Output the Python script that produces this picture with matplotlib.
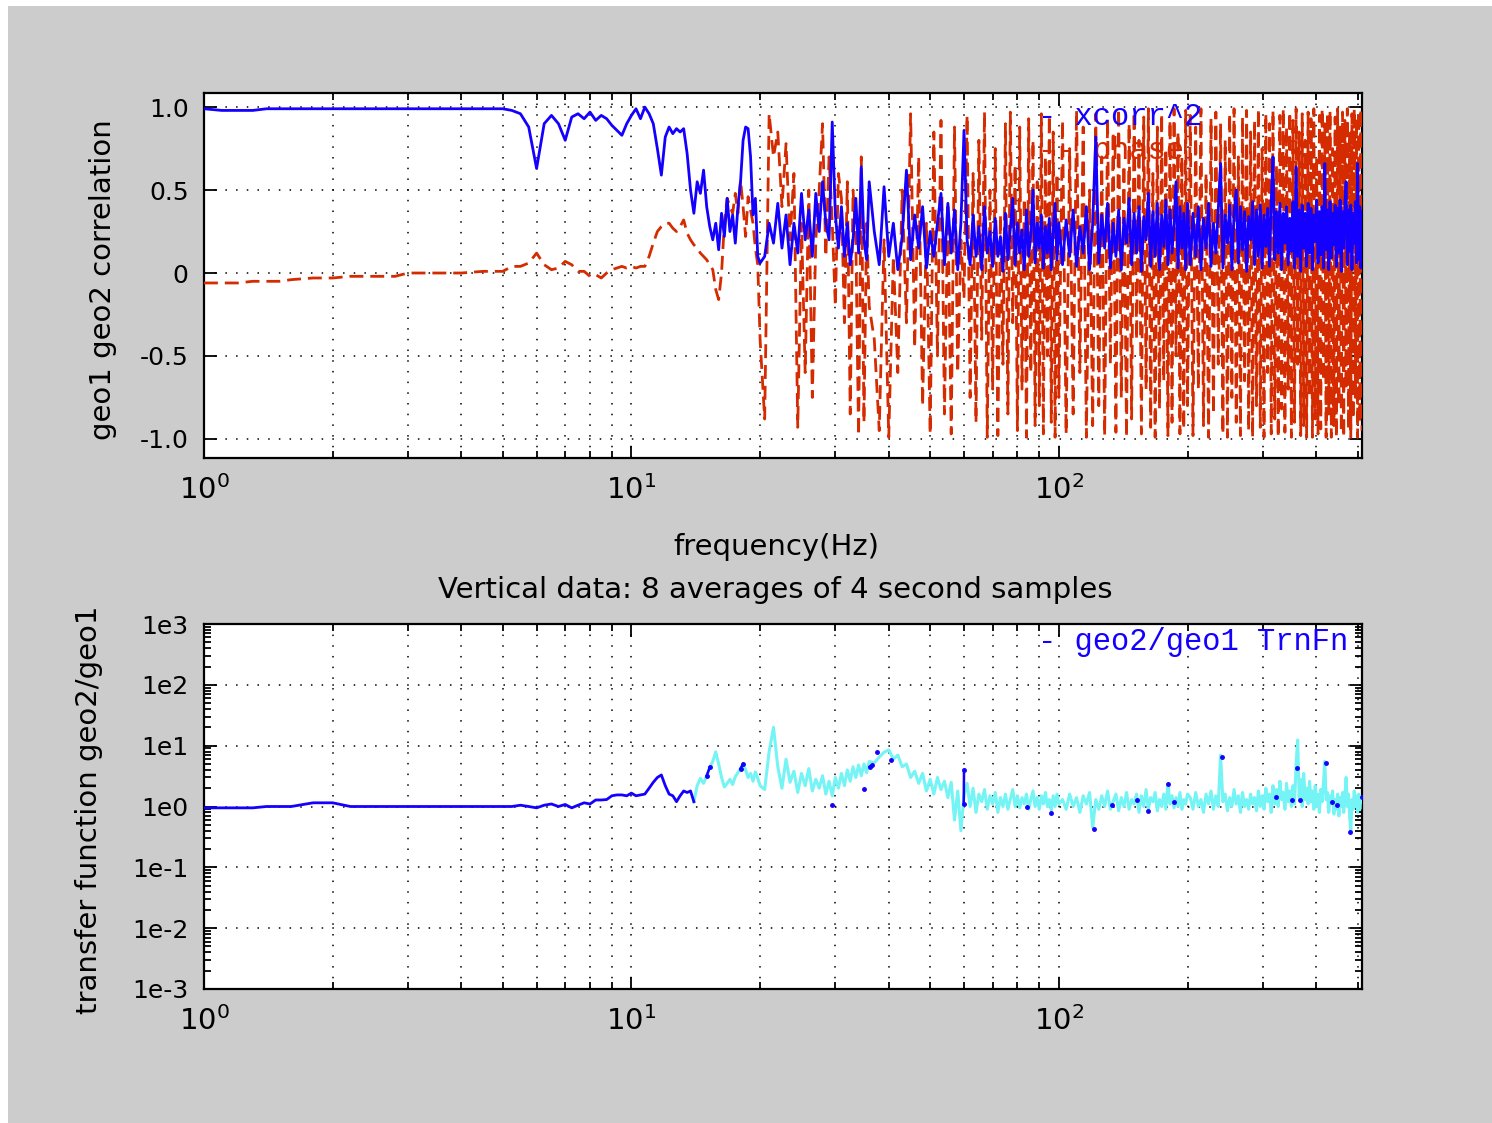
import numpy as np
import matplotlib
matplotlib.use("Agg")
import matplotlib.pyplot as plt
from matplotlib.patches import Rectangle
from matplotlib.ticker import FixedLocator, FixedFormatter, LogLocator, NullFormatter

nan = np.nan

# frequency bins (Hz)
freq = [
    1.0, 1.1, 1.2, 1.3, 1.4, 1.5, 1.6, 1.8, 2.0, 2.2, 2.5, 2.8, 3.0, 3.5, 4.0, 4.5, 5.0,
    5.25, 5.5, 5.75, 6.0, 6.25, 6.5, 6.75, 7.0, 7.25, 7.5,
    7.75, 8.0, 8.25, 8.5, 8.75, 9.0, 9.25, 9.5, 9.75, 10.0,
    10.25, 10.5, 10.75, 11.0, 11.25, 11.5, 11.75, 12.0, 12.25, 12.5,
    12.75, 13.0, 13.25, 13.5, 13.75, 14.0, 14.25, 14.5, 14.75, 15.0,
    15.25, 15.5, 15.75, 16.0, 16.25, 16.5, 16.75, 17.0, 17.25, 17.5,
    17.75, 18.0, 18.25, 18.5, 18.75, 19.0, 19.25, 19.5, 19.75, 20.0,
    20.5, 21.0, 21.5, 22.0, 22.5, 23.0, 23.5, 24.0, 24.5, 25.0,
    25.5, 26.0, 26.5, 27.0, 27.5, 28.0, 28.5, 29.0, 29.5, 30.0,
    30.5, 31.0, 31.5, 32.0, 32.5, 33.0, 33.5, 34.0, 34.5, 35.0,
    35.5, 36.0,
    37, 38, 39, 40, 41, 42, 43, 44, 45, 46,
    47, 48, 49, 50, 51, 52, 53, 54, 55, 56,
    57, 58, 59, 60, 61, 62, 63, 64, 65, 66,
    67, 68, 69, 70, 71, 72, 73, 74, 75, 76,
    77, 78, 79, 80, 81, 82, 83, 84, 85, 86,
    87, 88, 89, 90, 91, 92, 93, 94, 95, 96,
    97, 98, 99, 100,
    102, 104, 106, 108, 110, 112, 114, 116, 118, 120,
    122, 124, 126, 128, 130, 132, 134, 136, 138, 140,
    142, 144, 146, 148, 150, 152, 154, 156, 158, 160,
    162, 164, 166, 168, 170, 172, 174, 176, 178, 180,
    182, 184, 186, 188, 190, 192, 194, 196, 198, 200,
    203, 206, 209, 212, 215, 218, 221, 224, 227, 230,
    233, 236, 239, 242, 245, 248, 251, 254, 257, 260,
    263, 266, 269, 272, 275, 278, 281, 284, 287, 290,
    293, 296, 299, 302, 305, 308, 311, 314, 317, 320,
    323, 326, 329, 332, 335, 338, 341, 344, 347, 350,
    353, 356, 359, 362, 365, 368, 371, 374, 377, 380,
    383, 386, 389, 392, 395, 398, 401, 404, 407, 410,
    413, 416, 419, 422, 425, 428, 431, 434, 437, 440,
    443, 446, 449, 452, 455, 458, 461, 464, 467, 470,
    473, 476, 479, 482, 485, 488, 491, 494, 497, 500,
    503, 506, 509, 512,
]

# squared coherence geo1/geo2
xcorr2 = [
    0.99, 0.98, 0.98, 0.98, 0.99, 0.99, 0.99, 0.99, 0.99, 0.99, 0.99, 0.99, 0.99, 0.99, 0.99, 0.99, 0.99,
    0.98, 0.96, 0.88, 0.63, 0.90, 0.95, 0.90, 0.80, 0.94, 0.96,
    0.93, 0.97, 0.92, 0.95, 0.93, 0.89, 0.86, 0.83, 0.90, 0.95,
    0.99, 0.93, 1.00, 0.96, 0.90, 0.75, 0.59, 0.82, 0.88, 0.84,
    0.87, 0.85, 0.87, 0.72, 0.50, 0.36, 0.55, 0.48, 0.62, 0.40,
    0.28, 0.20, 0.30, 0.14, 0.36, 0.22, 0.45, 0.25, 0.35, 0.18,
    0.40, 0.55, 0.80, 0.88, 0.87, 0.70, 0.35, 0.45, 0.10, 0.06,
    0.10, 0.30, 0.18, 0.42, 0.15, 0.35, 0.05, 0.30, 0.12, 0.48,
    0.20, 0.38, 0.10, 0.48, 0.25, 0.55, 0.30, 0.20, 0.91, 0.35,
    0.15, 0.40, 0.10, 0.30, 0.05, 0.20, 0.45, 0.12, 0.64, 0.20,
    0.08, 0.55,
    0.25, 0.05, 0.52, 0.10, 0.30, 0.02, 0.22, 0.62, 0.08, 0.35,
    0.15, 0.40, 0.03, 0.25, 0.10, 0.30, 0.48, 0.05, 0.42, 0.12,
    0.38, 0.02, 0.30, 0.86, 0.20, 0.05, 0.35, 0.10, 0.28, 0.02,
    0.40, 0.12, 0.25, 0.04, 0.33, 0.10, 0.22, 0.01, 0.36, 0.08,
    0.27, 0.45, 0.05, 0.30, 0.12, 0.26, 0.02, 0.38, 0.10, 0.24,
    0.50, 0.06, 0.30, 0.15, 0.35, 0.03, 0.28, 0.12, 0.33, 0.02,
    0.25, 0.42, 0.08, 0.30,
    0.05, 0.32, 0.10, 0.38, 0.04, 0.28, 0.12, 0.40, 0.02, 0.30,
    0.82, 0.06, 0.35, 0.15, 0.42, 0.03, 0.30, 0.10, 0.38, 0.02,
    0.33, 0.18, 0.45, 0.05, 0.36, 0.12, 0.40, 0.01, 0.34, 0.20,
    0.48, 0.04, 0.37, 0.10, 0.42, 0.02, 0.35, 0.16, 0.44, 0.05,
    0.38, 0.12, 0.30, 0.55, 0.03, 0.40, 0.15, 0.36, 0.02, 0.42,
    0.05, 0.36, 0.10, 0.40, 0.02, 0.33, 0.15, 0.42, 0.04, 0.30,
    0.12, 0.38, 0.66, 0.03, 0.35, 0.18, 0.41, 0.02, 0.36, 0.50,
    0.06, 0.40, 0.14, 0.37, 0.01, 0.34, 0.20, 0.43, 0.05, 0.38,
    0.10, 0.41, 0.03, 0.35, 0.16, 0.39, 0.04, 0.44, 0.70, 0.08,
    0.37, 0.12, 0.42, 0.02, 0.36, 0.18, 0.40, 0.05, 0.33, 0.13,
    0.43, 0.03, 0.64, 0.10, 0.38, 0.01, 0.41, 0.15, 0.36, 0.04,
    0.42, 0.12, 0.39, 0.02, 0.35, 0.19, 0.44, 0.06, 0.37, 0.11,
    0.40, 0.03, 0.66, 0.14, 0.38, 0.02, 0.43, 0.09, 0.36, 0.17,
    0.41, 0.04, 0.39, 0.12, 0.44, 0.01, 0.37, 0.15, 0.42, 0.55,
    0.05, 0.38, 0.13, 0.41, 0.02, 0.36, 0.18, 0.43, 0.06, 0.66,
    0.08, 0.40, 0.03, 0.37,
]

# phase (normalised), dashed red trace
phase = [
    -0.06, -0.06, -0.06, -0.05, -0.05, -0.05, -0.04, -0.03, -0.03, -0.02, -0.02, -0.02, 0.00, 0.00, 0.00, 0.01, 0.01,
    0.04, 0.04, 0.06, 0.12, 0.05, 0.02, 0.03, 0.07, 0.05, 0.01,
    0.01, -0.02, -0.01, -0.03, 0.00, 0.02, 0.03, 0.04, 0.03, 0.04,
    0.03, 0.04, 0.04, 0.10, 0.18, 0.25, 0.28, 0.30, 0.30, 0.27,
    0.25, 0.28, 0.32, 0.24, 0.20, 0.17, 0.15, 0.12, 0.10, 0.08,
    0.05, 0.02, -0.10, -0.16, 0.00, 0.30, 0.45, 0.40, 0.36, 0.48,
    0.36, 0.56, 0.40, 0.22, 0.46, 0.38, 0.30, 0.15, 0.05, -0.40,
    -0.88, 0.96, 0.70, 0.85, 0.40, 0.78, 0.20, 0.60, -0.93, 0.30,
    -0.60, 0.50, -0.75, 0.20, 0.50, 0.90, 0.10, 0.70, 0.30, -0.20,
    0.60, 0.45, -0.30, 0.55, -0.85, 0.50, 0.20, -0.98, 0.70, -0.90,
    0.30, -0.20,
    -0.40, -0.95, 0.20, -0.99, 0.10, -0.60, 0.50, -0.30, 0.96, -0.45,
    0.70, -0.80, 0.30, -0.97, 0.85, -0.50, 0.92, -0.85, 0.40, -0.97,
    0.88, -0.60, 0.20, -0.15, 0.95, -0.75, 0.60, -0.90, 0.80, -0.40,
    0.97, -0.99, 0.50, -0.70, 0.75, -0.98, 0.35, -0.55, 0.90, -0.85,
    0.97, -0.30, 0.65, -0.95, 0.88, -0.70, 0.45, -0.99, 0.93, -0.60,
    0.80, -0.92, 0.55, -0.80, 0.96, -0.97, 0.70, -0.50, 0.95, -0.90,
    0.85, -0.99, 0.60, -0.75,
    0.92, -0.97, 0.75, -0.85, 0.98, -0.60, 0.88, -0.99, 0.50, -0.92,
    0.96, -0.80, 0.70, -0.98, 0.93, -0.55, 0.85, -0.96, 0.99, -0.75,
    0.65, -0.99, 0.90, -0.88, 0.97, -0.40, 0.80, -0.97, 0.94, -0.70,
    0.99, -0.93, 0.60, -0.99, 0.88, -0.82, 0.96, -0.65, 0.75, -0.98,
    0.92, -0.90, 0.99, -0.50, 0.85, -0.97, 0.70, -0.94, 0.98, -0.80,
    0.95, -0.98, 0.88, -0.70, 0.99, -0.92, 0.60, -0.99, 0.93, -0.85,
    0.97, -0.55, 0.90, -0.97, 0.80, -0.99, 0.96, -0.75, 0.99, -0.90,
    0.70, -0.98, 0.94, -0.65, 0.98, -0.95, 0.85, -0.99, 0.92, -0.80,
    0.99, -0.93, 0.75, -0.99, 0.96, -0.60, 0.90, -0.97, 0.98, -0.88,
    0.65, -0.99, 0.95, -0.82, 0.99, -0.96, 0.88, -0.70, 0.97, -0.99,
    0.92, -0.90, 0.99, -0.55, 0.85, -0.98, 0.96, -0.92, 0.80, -0.99,
    0.97, -0.75, 0.93, -0.99, 0.99, -0.88, 0.70, -0.97, 0.95, -0.94,
    0.99, -0.65, 0.90, -0.99, 0.96, -0.85, 0.98, -0.99, 0.75, -0.92,
    0.94, -0.99, 0.99, -0.80, 0.88, -0.96, 0.97, -0.99, 0.92, -0.70,
    0.99, -0.94, 0.85, -0.99, 0.96, -0.88, 0.99, -0.75, 0.93, -0.99,
    0.97, -0.90, 0.99, -0.95,
]

# |geo2/geo1| transfer function
trnfn = [
    0.95, 0.95, 0.95, 0.95, 1.0, 1.0, 1.0, 1.15, 1.15, 1.0, 1.0, 1.0, 1.0, 1.0, 1.0, 1.0, 1.0,
    1.0, 1.05, 1.0, 0.95, 1.05, 1.1, 1.0, 1.08, 0.95, 1.05,
    1.15, 1.1, 1.28, 1.28, 1.3, 1.5, 1.55, 1.55, 1.5, 1.66,
    1.5, 1.55, 1.6, 2.0, 2.5, 3.0, 3.3, 2.2, 1.6, 1.5,
    1.2, 1.5, 1.8, 1.7, 1.8, 1.2, 2.2, 2.9, 2.4, 3.2,
    4.4, 5.5, 7.9, 5.0, 3.0, 2.1, 2.4, 2.8, 2.3, 3.1,
    3.6, 4.2, 5.0, 4.0, 3.0, 3.5, 2.6, 3.7, 2.9, 2.2,
    1.9, 8.0, 20.0, 4.5, 2.0, 6.0, 2.5, 3.8, 1.7, 3.5,
    2.2, 4.2, 1.8, 2.8, 2.0, 3.2, 1.6, 2.6, 1.5, 3.0,
    2.0, 3.5, 2.2, 4.0, 2.6, 4.5, 3.0, 4.8, 3.2, 5.0,
    3.6, 5.5,
    5.2, 6.5, 7.8, 8.5, 6.0, 7.0, 4.5, 5.0, 3.0, 3.8,
    2.4, 3.5, 1.8, 2.8, 1.6, 3.0, 1.9, 2.6, 1.4, 2.5,
    0.6, 1.8, 0.4, 1.5, 2.4, 1.0, 2.0, 0.8, 1.6, 1.2,
    1.9, 0.9, 1.5, 1.1, 1.7, 0.8, 1.4, 1.0, 1.6, 0.9,
    1.3, 1.9, 1.0, 1.5, 0.95, 1.4, 1.1, 1.6, 0.9, 1.3,
    1.8, 1.0, 1.4, 0.9, 1.5, 1.1, 1.7, 1.0, 1.3, 0.85,
    1.5, 1.0, 1.6, 1.1,
    1.3, 0.9, 1.6, 1.0, 1.4, 0.8, 1.5, 1.1, 1.7, 0.45,
    1.3, 0.9, 1.5, 1.0, 1.8, 0.9, 1.2, 1.6, 0.85, 1.4,
    1.0, 1.7, 0.9, 1.3, 1.1, 1.6, 0.8, 1.5, 1.0, 1.9,
    0.9, 1.4, 1.2, 1.7, 0.85, 1.3, 1.0, 1.6, 0.9, 2.4,
    1.1, 1.5, 0.95, 1.4, 1.0, 1.7, 0.9, 1.3, 1.1, 1.6,
    1.4, 0.9, 1.7, 1.0, 1.3, 0.8, 1.6, 1.1, 1.8, 0.9,
    1.5, 1.0, 7.0, 1.2, 1.6, 0.85, 1.4, 1.0, 1.9, 1.1,
    1.5, 0.8, 1.7, 1.0, 1.3, 0.9, 1.6, 1.1, 1.4, 0.85,
    1.8, 1.0, 1.5, 0.9, 2.0, 1.2, 1.6, 0.8, 2.2, 1.1,
    1.9, 1.0, 2.6, 1.3, 1.7, 0.9, 2.4, 1.2, 1.8, 1.0,
    2.2, 1.1, 5.0, 12.4, 1.4, 2.8, 1.0, 3.5, 1.3, 2.0,
    1.1, 2.6, 1.2, 1.8, 0.9, 2.2, 1.0, 1.6, 0.8, 1.9,
    1.2, 2.4, 5.5, 1.3, 1.7, 0.8, 1.5, 1.1, 1.8, 0.75,
    1.3, 0.9, 1.6, 0.7, 1.4, 1.0, 1.7, 0.8, 1.5, 3.0,
    1.0, 1.6, 0.7, 0.38, 1.3, 0.9, 1.8, 1.0, 1.5, 0.8,
    1.6, 0.9, 1.4, 1.2,
]

# bins where the transfer function is coherent (blue marks above 14 Hz)
coh_freq = [15.0, 15.25, nan, 18.0, 18.25, nan, 29.5, nan, 35.0, nan, 36.1, 36.6, nan,
            37.6, nan, 40.5, nan, 59.9, 60.0, nan, 84.2, nan, 96.1, nan, 120.8, nan,
            133.4, nan, 152.2, nan, 161.3, nan, 180.3, nan, 186.3, nan, 240.7, nan,
            321.4, nan, 351.8, nan, 360.7, nan, 366.0, nan, 422.0, nan, 436.1, nan,
            447.1, nan, 480.7, nan, 511.0]
coh_trnfn = [3.2, 4.4, nan, 4.2, 5.0, nan, 1.06, nan, 1.94, nan, 4.51, 4.81, nan,
             7.96, nan, 5.81, nan, 1.1, 4.0, nan, 0.97, nan, 0.77, nan, 0.43, nan,
             1.06, nan, 1.28, nan, 0.85, nan, 2.34, nan, 1.17, nan, 6.44, nan,
             1.42, nan, 1.28, nan, 4.30, nan, 1.28, nan, 5.25, nan, 1.17, nan,
             1.06, nan, 0.385, nan, 1.42]

corr_ticks = [-1.0, -0.5, 0, 0.5, 1.0]
corr_labels = ['-1.0', '-0.5', '0', '0.5', '1.0']
tf_ticks = [1e-3, 1e-2, 1e-1, 1e0, 1e1, 1e2, 1e3]
tf_labels = ['1e-3', '1e-2', '1e-1', '1e0', '1e1', '1e2', '1e3']

BLUE = '#1400ff'
RED = '#d52b00'
CYAN = '#74f4f4'
GREY = '#cccccc'

plt.rcParams['font.family'] = 'DejaVu Sans'
plt.rcParams['mathtext.default'] = 'regular'

fig = plt.figure(figsize=(14.92, 11.23), dpi=100, facecolor='white')
fig.patches.append(Rectangle((8 / 1492, 0), 1 - 8 / 1492, 1 - 6 / 1123,
                             transform=fig.transFigure, facecolor=GREY,
                             edgecolor='none', zorder=-10))

ax1 = fig.add_axes([204 / 1492, 1 - 458 / 1123, 1158 / 1492, 365 / 1123])
ax2 = fig.add_axes([204 / 1492, 1 - 989 / 1123, 1158 / 1492, 365 / 1123])

f = np.array(freq)
tf = np.array(trnfn)

# top: coherence and phase
ax1.plot(f, phase, color=RED, lw=2.0, ls=(0, (5, 2.5)), zorder=3)
ax1.plot(f, xcorr2, color=BLUE, lw=2.0, zorder=4)
ax1.set_ylim(-1.115, 1.085)
ax1.yaxis.set_major_locator(FixedLocator(corr_ticks))
ax1.yaxis.set_major_formatter(FixedFormatter(corr_labels))
ax1.set_ylabel('geo1 geo2 correlation', fontsize=21)
ax1.yaxis.set_label_coords(-0.075, 0.49)
ax1.set_xlabel('frequency(Hz)', fontsize=21)
ax1.xaxis.set_label_coords(0.494, -0.205)
ax1.text(0.72, 0.912, '- xcorr^2', transform=ax1.transAxes, color=BLUE,
         family='Liberation Mono', fontsize=22, va='baseline', zorder=6)
ax1.text(0.72, 0.82, '-- phase', transform=ax1.transAxes, color=RED,
         family='Liberation Mono', fontsize=22, va='baseline', zorder=2)

# bottom: transfer function
low = f <= 14.0
high = f >= 14.0
ax2.plot(f[high], tf[high], color=CYAN, lw=2.2, zorder=3)
ax2.plot(f[low], tf[low], color=BLUE, lw=2.0, zorder=4)
ax2.plot(coh_freq, coh_trnfn, color=BLUE, lw=1.8, marker='o', ms=2.5, zorder=5)
ax2.set_yscale('log')
ax2.set_ylim(1e-3, 1e3)
ax2.yaxis.set_major_locator(FixedLocator(tf_ticks))
ax2.yaxis.set_major_formatter(FixedFormatter(tf_labels))
ax2.yaxis.set_minor_locator(LogLocator(base=10, subs=np.arange(2, 10), numticks=20))
ax2.yaxis.set_minor_formatter(NullFormatter())
ax2.set_ylabel('transfer function geo2/geo1', fontsize=21)
ax2.yaxis.set_label_coords(-0.087, 0.49)
ax2.text(0.4935, 1 + 26 / 365, 'Vertical data: 8 averages of 4 second samples',
         transform=ax2.transAxes, ha='center', va='baseline', fontsize=21)
ax2.text(0.72, 0.929, '- geo2/geo1 TrnFn', transform=ax2.transAxes, color=BLUE,
         family='Liberation Mono', fontsize=22, va='baseline', zorder=6, clip_on=True)

for ax in (ax1, ax2):
    ax.set_xscale('log')
    ax.set_xlim(1, 512)
    ax.set_facecolor('white')
    ax.xaxis.set_major_locator(LogLocator(base=10, numticks=10))
    ax.xaxis.set_minor_locator(LogLocator(base=10, subs=np.arange(2, 10), numticks=20))
    ax.xaxis.set_minor_formatter(NullFormatter())
    ax.grid(True, which='major', color='black', lw=1.1, ls=(0, (1, 6)))
    ax.xaxis.grid(True, which='minor', color='black', lw=1.1, ls=(0, (1, 6)))
    ax.tick_params(which='both', direction='in', top=True, right=True, width=1.3)
    ax.tick_params(which='major', length=9)
    ax.tick_params(which='minor', length=5)
    ax.tick_params(axis='y', labelsize=18, pad=11)
    ax.tick_params(axis='x', labelsize=21, pad=12)
    for s in ax.spines.values():
        s.set_linewidth(1.6)
    ax.set_axisbelow(True)

fig.savefig('out.png', dpi=100, facecolor=fig.get_facecolor())
